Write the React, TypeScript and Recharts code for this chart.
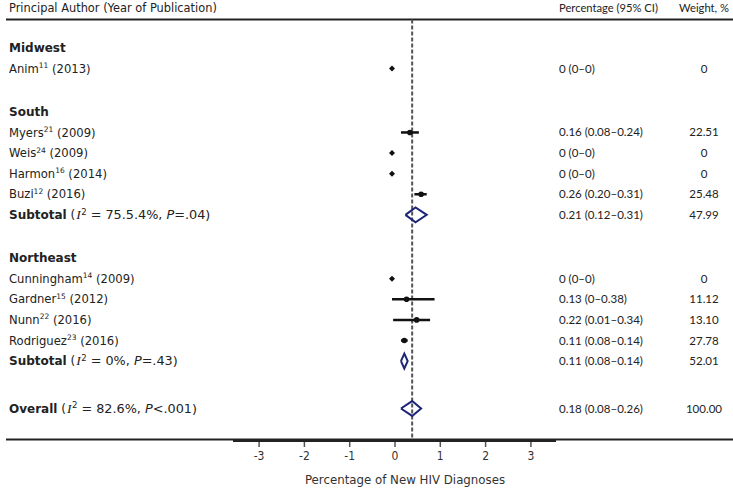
import React from 'react';
import {
  ComposedChart,
  XAxis,
  YAxis,
  Scatter,
  ErrorBar,
  ReferenceLine,
} from 'recharts';

// studies
const authors = ['Anim', 'Myers', 'Weis', 'Harmon', 'Buzi', 'Cunningham', 'Gardner', 'Nunn', 'Rodriguez'];
const refNums = ['11', '21', '24', '16', '12', '14', '15', '22', '23'];
const years = [2013, 2009, 2009, 2014, 2016, 2009, 2012, 2016, 2016];
const studyRegion = ['Midwest', 'South', 'South', 'South', 'South', 'Northeast', 'Northeast', 'Northeast', 'Northeast'];
const estimates = [0, 0.16, 0, 0, 0.26, 0, 0.13, 0.22, 0.11];
const lowerCI = [0, 0.08, 0, 0, 0.2, 0, 0, 0.01, 0.08];
const upperCI = [0, 0.24, 0, 0, 0.31, 0, 0.38, 0.34, 0.14];
const weights = [0, 22.51, 0, 0, 25.48, 0, 11.12, 13.1, 27.78];

// regions and subtotals
const regions = ['Midwest', 'South', 'Northeast'];
const subtotalRegion = ['South', 'Northeast'];
const subtotalEst = [0.21, 0.11];
const subtotalLow = [0.12, 0.08];
const subtotalHigh = [0.31, 0.14];
const subtotalWeight = [47.99, 52.01];
const subtotalI2 = ['75.5.4%', '0%'];
const subtotalP = ['=.04', '=.43'];

// overall
const overallEst = 0.18;
const overallLow = 0.08;
const overallHigh = 0.26;
const overallWeight = 100;
const overallI2 = '82.6%';
const overallP = '<.001';

const axisTicks = [-3, -2, -1, 0, 1, 2, 3];

// layout
const W = 733;
const H = 490;
const ROW_H = 20.6;
const FIRST_ROW_Y = 48;
const PLOT_BOTTOM = 442;
const toRow = (px: number) => (px - FIRST_ROW_Y) / ROW_H;
const rowDomain = [toRow(0), toRow(PLOT_BOTTOM)];
// estimates are drawn 0 -> 392px, 112px per unit; the printed axis is 0 -> 395px, 45.3px per unit
const toEst = (px: number) => (px - 392) / 112;
const toTick = (px: number) => (px - 395) / 45.3;
const estDomain = [toEst(0), toEst(W)];
const tickDomain = [toTick(0), toTick(W)];

const LEFT_FONT = "'DejaVu Sans', Verdana, sans-serif";
const RIGHT_FONT = "Lato, 'Liberation Sans', sans-serif";
const TEXT = '#222';
const NAVY = '#1c2577';

const fmt = (v: number) => (v === 0 ? '0' : v.toFixed(2));
const fmtCI = (e: number, l: number, h: number) => `${fmt(e)} (${fmt(l)}\u2013${fmt(h)})`;

type Row = {
  pos: number;
  kind: 'head' | 'region' | 'study' | 'subtotal' | 'overall';
  label?: string;
  refNum?: string;
  year?: number;
  est?: number;
  lo?: number;
  hi?: number;
  weight?: number;
  i2?: string;
  p?: string;
};

const rows: Row[] = [{ pos: toRow(8), kind: 'head' }];
let pos = 0;
regions.forEach((region, ri) => {
  if (ri > 0) pos += 2.1;
  rows.push({ pos, kind: 'region', label: region });
  authors.forEach((a, i) => {
    if (studyRegion[i] !== region) return;
    pos += 1;
    rows.push({
      pos,
      kind: 'study',
      label: a,
      refNum: refNums[i],
      year: years[i],
      est: estimates[i],
      lo: lowerCI[i],
      hi: upperCI[i],
      weight: weights[i],
    });
  });
  const s = subtotalRegion.indexOf(region);
  if (s >= 0) {
    pos += 1;
    rows.push({
      pos,
      kind: 'subtotal',
      label: 'Subtotal',
      est: subtotalEst[s],
      lo: subtotalLow[s],
      hi: subtotalHigh[s],
      weight: subtotalWeight[s],
      i2: subtotalI2[s],
      p: subtotalP[s],
    });
  }
});
pos += 2.3;
rows.push({
  pos,
  kind: 'overall',
  label: 'Overall',
  est: overallEst,
  lo: overallLow,
  hi: overallHigh,
  weight: overallWeight,
  i2: overallI2,
  p: overallP,
});

const tickData = axisTicks.map((t) => ({ tick: t }));
const studyRows = rows.filter((r) => r.kind === 'study');
const ciPoints = studyRows
  .filter((r) => (r.hi as number) > 0)
  .map((r) => ({ x: r.est, y: r.pos, err: [(r.est as number) - (r.lo as number), (r.hi as number) - (r.est as number)] }));
const zeroPoints = studyRows.filter((r) => r.hi === 0).map((r) => ({ x: r.est, y: r.pos }));
const diamonds = rows
  .filter((r) => r.kind === 'subtotal' || r.kind === 'overall')
  .map((r) => [
    { x: r.lo, y: r.pos },
    { x: r.est, y: r.pos - 0.36 },
    { x: r.hi, y: r.pos },
    { x: r.est, y: r.pos + 0.36 },
    { x: r.lo, y: r.pos },
  ]);

const headerLineRow = toRow(19.5);
const bottomLineRow = toRow(439.5);

const RowTick = (props: any) => {
  const { y, payload } = props;
  const row = rows.find((r) => Math.abs(r.pos - payload.value) < 1e-6);
  if (!row) return null;
  const common = { y, dy: '0.35em', fill: TEXT };
  if (row.kind === 'head') {
    return (
      <g>
        <text {...common} x={9} fontFamily={LEFT_FONT} fontSize={11.4}>
          Principal Author (Year of Publication)
        </text>
        <text {...common} x={559} fontFamily={RIGHT_FONT} fontSize={11.2}>
          Percentage (95% CI)
        </text>
        <text {...common} x={704} textAnchor="middle" fontFamily={RIGHT_FONT} fontSize={11.2}>
          Weight, %
        </text>
      </g>
    );
  }
  if (row.kind === 'region') {
    return (
      <text {...common} x={9} fontFamily={LEFT_FONT} fontSize={12} fontWeight="bold">
        {row.label}
      </text>
    );
  }
  let left;
  if (row.kind === 'study') {
    left = (
      <text {...common} x={9} fontFamily={LEFT_FONT} fontSize={11.6}>
        <tspan>{row.label}</tspan>
        <tspan dy={-4.5} fontSize={7.5}>{row.refNum}</tspan>
        <tspan dy={4.5}>{` (${row.year})`}</tspan>
      </text>
    );
  } else {
    left = (
      <text {...common} x={9} fontFamily={LEFT_FONT} fontSize={12}>
        <tspan fontWeight="bold">{row.label}</tspan>
        <tspan> (</tspan>
        <tspan fontFamily="'Liberation Serif', serif" fontStyle="italic" fontSize={13.5} dx={1}>I</tspan>
        <tspan dy={-4.5} dx={0.5} fontSize={8.5}>2</tspan>
        <tspan dy={4.5} fontSize={12.8}>{` = ${row.i2}, `}</tspan>
        <tspan fontStyle="italic" fontSize={12.8}>P</tspan>
        <tspan fontSize={12.8}>{`${row.p})`}</tspan>
      </text>
    );
  }
  return (
    <g>
      {left}
      <text {...common} x={559} fontFamily={RIGHT_FONT} fontSize={11.5}>
        {fmtCI(row.est as number, row.lo as number, row.hi as number)}
      </text>
      <text {...common} x={704} textAnchor="middle" fontFamily={RIGHT_FONT} fontSize={11.5}>
        {fmt(row.weight as number)}
      </text>
    </g>
  );
};

const ZeroMarker = (props: any) => {
  const { cx, cy } = props;
  return <polygon points={`${cx - 3},${cy} ${cx},${cy - 3} ${cx + 3},${cy} ${cx},${cy + 3}`} fill="#111" />;
};

const DotMarker = (props: any) => <circle cx={props.cx} cy={props.cy} r={2.8} fill="#111" />;

const NoMarker = () => <g />;

const AxisTitle = () => (
  <text x={405} y={484} textAnchor="middle" fontFamily={LEFT_FONT} fontSize={11.8} fill="#333">
    Percentage of New HIV Diagnoses
  </text>
);

const App = () => {
  return (
    <div style={{ position: 'absolute', left: 0, top: 0, width: W, height: H, background: '#fff' }}>
      <ComposedChart width={W} height={H} data={tickData} margin={{ top: 0, right: 0, bottom: 0, left: 0 }}>
        <XAxis
          xAxisId="tick"
          type="number"
          dataKey="tick"
          scale="linear"
          domain={tickDomain}
          allowDataOverflow
          ticks={axisTicks}
          interval={0}
          height={H - PLOT_BOTTOM}
          axisLine={false}
          tickSize={5}
          tickMargin={4}
          tickLine={{ stroke: '#555', strokeWidth: 1.5 }}
          tick={{ fontSize: 12, fill: '#333', fontFamily: "'DejaVu Sans Condensed', 'Liberation Sans Narrow', sans-serif" }}
          label={<AxisTitle />}
        />
        <XAxis
          xAxisId="est"
          type="number"
          dataKey="x"
          scale="linear"
          domain={estDomain}
          allowDataOverflow
          height={0}
          hide
        />
        <YAxis
          yAxisId="row"
          type="number"
          dataKey="y"
          scale="linear"
          domain={rowDomain}
          allowDataOverflow
          reversed
          mirror
          ticks={rows.map((r) => r.pos)}
          interval={0}
          axisLine={false}
          tickLine={false}
          tick={<RowTick />}
        />

        {/* header and bottom rules */}
        <ReferenceLine
          xAxisId="est"
          yAxisId="row"
          segment={[{ x: toEst(6), y: headerLineRow }, { x: toEst(W), y: headerLineRow }]}
          stroke="#222"
          strokeWidth={2}
        />
        <ReferenceLine
          xAxisId="est"
          yAxisId="row"
          segment={[{ x: toEst(6), y: bottomLineRow }, { x: toEst(W), y: bottomLineRow }]}
          stroke="#222"
          strokeWidth={2}
        />
        {/* printed axis line */}
        <ReferenceLine
          xAxisId="tick"
          yAxisId="row"
          segment={[{ x: toTick(233), y: toRow(441) }, { x: toTick(556), y: toRow(441) }]}
          stroke="#222"
          strokeWidth={2}
        />
        {/* overall estimate */}
        <ReferenceLine
          xAxisId="est"
          yAxisId="row"
          segment={[{ x: overallEst, y: headerLineRow }, { x: overallEst, y: bottomLineRow }]}
          stroke="#555"
          strokeWidth={2}
          strokeDasharray="4 2"
        />

        <Scatter
          xAxisId="est"
          yAxisId="row"
          data={zeroPoints}
          shape={<ZeroMarker />}
          isAnimationActive={false}
        />
        <Scatter
          xAxisId="est"
          yAxisId="row"
          data={ciPoints}
          shape={<DotMarker />}
          isAnimationActive={false}
        >
          <ErrorBar dataKey="err" direction="x" width={0} stroke="#111" strokeWidth={2.5} isAnimationActive={false} />
        </Scatter>
        {diamonds.map((d, i) => (
          <Scatter
            key={i}
            xAxisId="est"
            yAxisId="row"
            data={d}
            line={{ stroke: NAVY, strokeWidth: 2 }}
            shape={<NoMarker />}
            isAnimationActive={false}
          />
        ))}
      </ComposedChart>
    </div>
  );
};

export default App;
